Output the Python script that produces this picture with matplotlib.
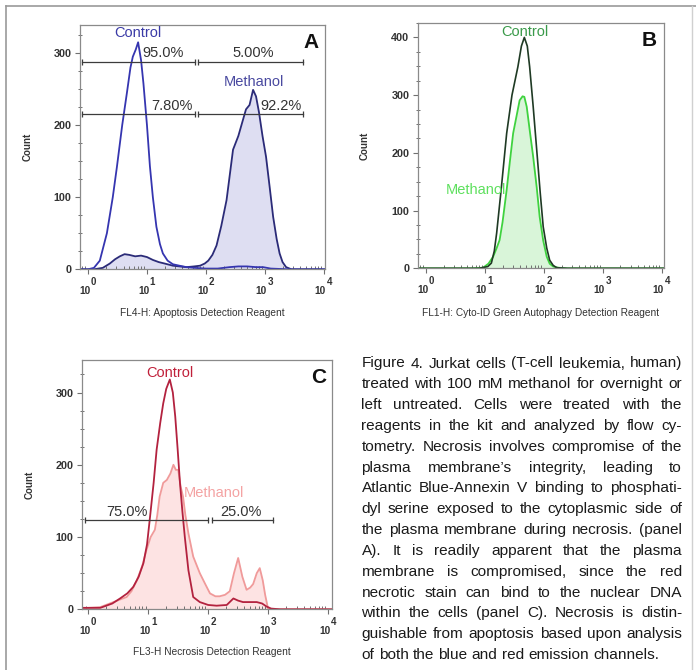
import numpy as np
import matplotlib
matplotlib.use('Agg')
import matplotlib.pyplot as plt
from matplotlib import font_manager
from matplotlib.lines import Line2D
from matplotlib.transforms import blended_transform_factory, offset_copy
from matplotlib.ticker import FixedLocator, NullFormatter, MultipleLocator, LogLocator

plt.rcParams['font.family'] = ['Liberation Sans', 'DejaVu Sans']
plt.rcParams['mathtext.default'] = 'regular'

W, H = 696, 670

# ---------------- data (x = log10 of fluorescence, y = count) ----------------
# panel A: apoptosis reagent
a_ctrl_x = [-0.14, 0.0, 0.1, 0.2, 0.32, 0.42, 0.49, 0.58, 0.66, 0.72, 0.76, 0.81, 0.85, 0.9, 0.94,
            1.0, 1.05, 1.1, 1.16, 1.22, 1.27, 1.35, 1.44, 1.55, 1.67, 1.8, 2.0, 2.2, 2.4, 2.55,
            2.7, 2.85, 2.97, 3.1, 3.4, 4.02]
a_ctrl_y = [0, 0, 2, 12, 50, 100, 142, 200, 245, 280, 295, 305, 315, 290, 258,
            200, 143, 100, 59, 35, 22, 12, 7, 5, 3, 2, 1, 1, 3, 4,
            4, 3, 3, 1, 0, 0]
a_meth_x = [-0.14, 0.1, 0.25, 0.37, 0.46, 0.54, 0.62, 0.7, 0.8, 0.9, 1.0, 1.1, 1.2, 1.3, 1.44,
            1.55, 1.67, 1.8, 1.9, 1.98, 2.04, 2.11, 2.18, 2.26, 2.35, 2.46, 2.55, 2.62, 2.68,
            2.74, 2.8, 2.85, 2.9, 2.96, 3.02, 3.08, 3.14, 3.2, 3.25, 3.3, 3.36, 3.45, 4.02]
a_meth_y = [0, 0, 2, 8, 14, 18, 21, 20, 18, 19, 17, 13, 10, 8, 5,
            4, 3, 4, 5, 8, 12, 20, 33, 60, 96, 166, 185, 205, 222,
            228, 249, 240, 218, 185, 156, 115, 73, 42, 22, 10, 3, 0, 0]

# panel B: autophagy reagent
b_ctrl_x = [-0.14, 0.9, 1.05, 1.11, 1.16, 1.2, 1.28, 1.37, 1.46, 1.56, 1.62, 1.67, 1.72, 1.76,
            1.82, 1.88, 1.94, 1.99, 2.05, 2.1, 2.16, 2.22, 2.4, 4.04]
b_ctrl_y = [0, 0, 3, 9, 30, 61, 140, 234, 300, 349, 385, 400, 385, 349,
            280, 205, 130, 72, 35, 14, 5, 1, 0, 0]
b_meth_x = [-0.14, 0.8, 0.97, 1.06, 1.14, 1.2, 1.25, 1.3, 1.37, 1.43, 1.48, 1.54, 1.59, 1.64,
            1.67, 1.71, 1.76, 1.82, 1.88, 1.93, 1.99, 2.05, 2.1, 2.16, 2.25, 2.4, 4.04]
b_meth_y = [0, 0, 1, 8, 20, 35, 49, 80, 136, 190, 234, 265, 291, 298,
            297, 280, 240, 193, 140, 89, 48, 20, 8, 3, 1, 0, 0]

# panel C: necrosis reagent
c_ctrl_x = [-0.11, 0.0, 0.2, 0.4, 0.53, 0.65, 0.75, 0.84, 0.92, 0.98, 1.03, 1.09, 1.14, 1.2,
            1.25, 1.3, 1.36, 1.41, 1.45, 1.49, 1.53, 1.57, 1.61, 1.67, 1.75, 1.86, 2.0, 2.14,
            2.31, 2.42, 2.5, 2.58, 2.7, 2.81, 2.9, 2.97, 3.05, 3.2, 4.06]
c_ctrl_y = [2, 2, 2, 8, 15, 22, 31, 45, 64, 90, 128, 175, 221, 258,
            285, 305, 318, 300, 267, 222, 174, 135, 100, 54, 17, 10, 6, 5,
            6, 15, 12, 10, 10, 10, 8, 4, 1, 0, 0]
c_meth_x = [-0.11, 0.0, 0.2, 0.42, 0.64, 0.72, 0.81, 0.9, 0.97, 1.04, 1.11, 1.15, 1.19, 1.25,
            1.31, 1.37, 1.42, 1.46, 1.5, 1.54, 1.58, 1.62, 1.67, 1.75, 1.86, 1.95, 2.03, 2.12,
            2.19, 2.28, 2.36, 2.43, 2.5, 2.57, 2.64, 2.7, 2.75, 2.81, 2.86, 2.91, 2.95, 3.0,
            3.1, 4.06]
c_meth_y = [2, 2, 3, 10, 17, 25, 40, 60, 82, 100, 110, 130, 156, 175,
            179, 188, 200, 193, 193, 170, 156, 130, 105, 73, 50, 35, 22, 18,
            18, 20, 25, 50, 71, 45, 27, 30, 35, 50, 57, 40, 20, 0,
            0, 0]

# gates: (x start, x end, y) in log10 units / counts, with their labels
a_gates = [(-0.1, 1.81, 288), (1.87, 3.65, 288), (-0.1, 1.81, 215), (1.87, 3.65, 215)]
a_gate_labels = [('95.0%', 1.28, 300), ('5.00%', 2.80, 300), ('7.80%', 1.43, 226), ('92.2%', 3.28, 226)]
c_gates = [(-0.05, 2.0, 123), (2.06, 3.08, 123)]
c_gate_labels = [('75.0%', 0.64, 134), ('25.0%', 2.54, 134)]

decades = [0, 1, 2, 3, 4]

caption_lines = [
    "Figure 4. Jurkat cells (T-cell leukemia, human)",
    "treated with 100 mM methanol for overnight or",
    "left untreated. Cells were treated with the",
    "reagents in the kit and analyzed by flow cy-",
    "tometry. Necrosis involves compromise of the",
    "plasma membrane\u2019s integrity, leading to",
    "Atlantic Blue-Annexin V binding to phosphati-",
    "dyl serine exposed to the cytoplasmic side of",
    "the plasma membrane during necrosis. (panel",
    "A). It is readily apparent that the plasma",
    "membrane is compromised, since the red",
    "necrotic stain can bind to the nuclear DNA",
    "within the cells (panel C). Necrosis is distin-",
    "guishable from apoptosis based upon analysis",
    "of both the blue and red emission channels.",
]


def px_axes(fig, left, top, right, bottom):
    return fig.add_axes([left / W, 1 - bottom / H, (right - left) / W, (bottom - top) / H])


def style_axes(ax, xlo, xhi, ytop, ymajor, xlabel):
    ax.set_xscale('log')
    ax.set_xlim(10 ** xlo, 10 ** xhi)
    ax.set_ylim(0, ytop)
    for s in ax.spines.values():
        s.set_color('#8a8a8a')
        s.set_linewidth(0.9)
    ax.xaxis.set_major_locator(FixedLocator([10.0 ** d for d in decades]))
    ax.xaxis.set_major_formatter(NullFormatter())
    ax.xaxis.set_minor_locator(LogLocator(base=10, subs=np.arange(2, 10)))
    ax.xaxis.set_minor_formatter(NullFormatter())
    ax.yaxis.set_major_locator(MultipleLocator(ymajor))
    ax.yaxis.set_minor_locator(MultipleLocator(ymajor / 4))
    ax.tick_params(which='major', direction='out', length=3.5, width=0.8, color='#707070',
                   labelsize=7.8, pad=2.5)
    ax.tick_params(which='minor', direction='in', length=2, width=0.7, color='#707070')
    ax.tick_params(axis='y', which='minor', direction='inout', length=3)
    for lab in ax.get_yticklabels():
        lab.set_fontweight('bold')
        lab.set_color('#333333')
    # decade labels: "10" with a full-size raised exponent, well below the axis
    tr = blended_transform_factory(ax.transData, ax.transAxes)
    for d in decades:
        base = offset_copy(tr, fig=ax.figure, x=1.6, y=-11.8, units='points')
        ax.text(10.0 ** d, 0, '10', transform=base, ha='right', va='top',
                fontsize=7.3, fontweight='bold', color='#333333')
        sup = offset_copy(tr, fig=ax.figure, x=2.0, y=-5.6, units='points')
        ax.text(10.0 ** d, 0, str(d), transform=sup, ha='left', va='top',
                fontsize=7.0, fontweight='bold', color='#333333')
    ax.set_ylabel('Count', fontsize=7, fontweight='bold', color='#333333')
    ax.set_xlabel(xlabel, fontsize=7.3, color='#333333')


def draw_gates(ax, gates, labels):
    for x0, x1, y in gates:
        ax.plot([10 ** x0, 10 ** x1], [y, y], color='#3c3c3c', lw=0.9,
                marker='|', ms=5, mew=0.9)
    for txt, x, y in labels:
        ax.text(10 ** x, y, txt, ha='center', va='center', fontsize=10.5, color='#333333')


fig = plt.figure(figsize=(W / 100, H / 100), dpi=100)

# ---------------- panel A ----------------
axA = px_axes(fig, 80, 25, 325, 269.3)
style_axes(axA, -0.136, 4.02, 339, 100, 'FL4-H: Apoptosis Detection Reagent')
mx, my = 10 ** np.array(a_meth_x), np.array(a_meth_y)
axA.fill_between(mx, my, color='#dedef2', lw=0)
axA.plot(mx, my, color='#2b2b78', lw=1.3)
axA.plot(10 ** np.array(a_ctrl_x), a_ctrl_y, color='#3535b0', lw=1.3)
draw_gates(axA, a_gates, a_gate_labels)
axA.text(10 ** 0.84, 328, 'Control', ha='center', va='center', fontsize=10.5, color='#3a3aa6')
axA.text(10 ** 2.81, 260, 'Methanol', ha='center', va='center', fontsize=10.5, color='#4a4aa0')
axA.text(0.943, 0.93, 'A', transform=axA.transAxes, ha='center', va='center',
         fontsize=15, fontweight='bold', color='#111111')

# ---------------- panel B ----------------
axB = px_axes(fig, 417.7, 23, 664, 268.3)
style_axes(axB, -0.14, 4.04, 425, 100, 'FL1-H: Cyto-ID Green Autophagy Detection Reagent')
mx, my = 10 ** np.array(b_meth_x), np.array(b_meth_y)
axB.fill_between(mx, my, color='#d9f5d9', lw=0)
axB.plot(mx, my, color='#3fd23f', lw=1.3)
axB.plot(10 ** np.array(b_ctrl_x), b_ctrl_y, color='#1f3a24', lw=1.2)
axB.text(10 ** 1.68, 409, 'Control', ha='center', va='center', fontsize=10.5, color='#3a9a4a')
axB.text(10 ** 0.84, 136, 'Methanol', ha='center', va='center', fontsize=10.5, color='#5ee05e')
axB.text(0.94, 0.93, 'B', transform=axB.transAxes, ha='center', va='center',
         fontsize=15, fontweight='bold', color='#111111')

# ---------------- panel C ----------------
axC = px_axes(fig, 81.7, 360, 331.7, 609.3)
style_axes(axC, -0.11, 4.06, 345, 100, 'FL3-H Necrosis Detection Reagent')
mx, my = 10 ** np.array(c_meth_x), np.array(c_meth_y)
axC.fill_between(mx, my, color='#fde3e3', lw=0)
axC.plot(mx, my, color='#f09a9a', lw=1.3)
axC.plot(10 ** np.array(c_ctrl_x), c_ctrl_y, color='#b3223f', lw=1.3)
draw_gates(axC, c_gates, c_gate_labels)
axC.text(10 ** 1.36, 327, 'Control', ha='center', va='center', fontsize=10.5, color='#c0203a')
axC.text(10 ** 2.1, 161, 'Methanol', ha='center', va='center', fontsize=10.5, color='#f4a3a3')
axC.text(0.946, 0.93, 'C', transform=axC.transAxes, ha='center', va='center',
         fontsize=15, fontweight='bold', color='#111111')

# label positions (axes coords)
for ax, (l, t, r, b), xl_y, yl_x in [(axA, (80, 25, 325, 269.3), 313, 28),
                                     (axB, (417.7, 23, 664, 268.3), 313, 365),
                                     (axC, (81.7, 360, 331.7, 609.3), 652, 30)]:
    ax.xaxis.set_label_coords(0.5, (b - xl_y) / (b - t))
    ax.xaxis.label.set_verticalalignment('center')
    ax.yaxis.set_label_coords((yl_x - l) / (r - l), 0.5)
    ax.yaxis.label.set_verticalalignment('center')
axC.xaxis.set_label_coords((211.7 - 81.7) / 250, (609.3 - 652) / 249.3)

# ---------------- outer frame ----------------
fig.add_artist(Line2D([6 / W, 1], [1 - 6 / H, 1 - 6 / H], color='#9a9a9a', lw=1.2))
fig.add_artist(Line2D([6 / W, 6 / W], [1 - 6 / H, 0], color='#9a9a9a', lw=1.2))
fig.add_artist(Line2D([691.7 / W, 691.7 / W], [1 - 6 / H, 0], color='#d0d0d0', lw=1.0))

# ---------------- caption, justified ----------------
names = {f.name for f in font_manager.fontManager.ttflist}
cap_font = 'Liberation Sans'
for cand in ['Liberation Sans Narrow', 'Arial Narrow']:
    if cand in names:
        cap_font = cand
        break

cap_x0, cap_x1 = 361.5, 682.0
fig.canvas.draw()
r = fig.canvas.get_renderer()


def text_w(s, size):
    t = fig.text(0, 0, s, fontsize=size, family=cap_font)
    w = t.get_window_extent(r).width
    t.remove()
    return w


# pick the size at which the widest line just fills the column
widest = max(text_w(l, 10) for l in caption_lines)
cap_size = 10 * (cap_x1 - cap_x0) * 0.985 / widest
space_w = text_w('a a', cap_size) - text_w('aa', cap_size)

for i, line in enumerate(caption_lines):
    base_y = 367.5 + i * 20.83
    words = line.split(' ')
    txts = [fig.text(0, 1 - base_y / H, w, fontsize=cap_size, family=cap_font,
                     ha='left', va='baseline', color='#1a1a1a') for w in words]
    widths = [t.get_window_extent(r).width for t in txts]
    if i == len(caption_lines) - 1:
        gap = space_w
    else:
        gap = (cap_x1 - cap_x0 - sum(widths)) / (len(words) - 1)
    x = cap_x0
    for t, wdt in zip(txts, widths):
        t.set_x(x / W)
        x += wdt + gap

fig.savefig('out.png', dpi=100)
